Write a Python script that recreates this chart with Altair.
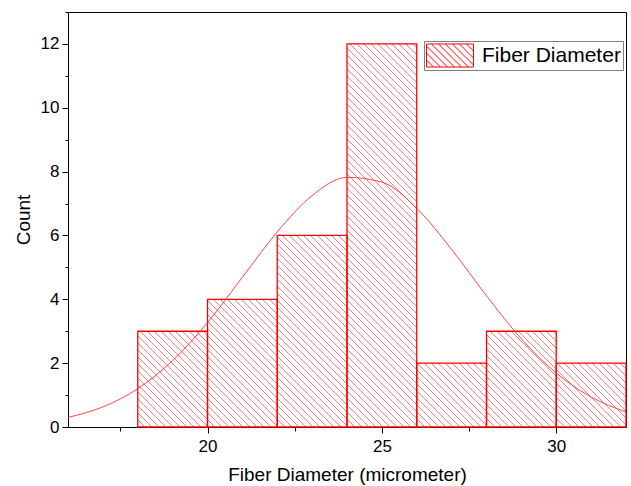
import altair as alt
import pandas as pd

# ---- data ----
bin_left = [18, 20, 22, 24, 26, 28, 30]
bin_right = [20, 22, 24, 26, 28, 30, 32]
counts = [3, 4, 6, 12, 2, 3, 2]
series_name = "Fiber Diameter"

curve_x = [16, 17, 18, 19, 20, 21, 22, 23, 24, 25, 26, 27, 28, 29, 30, 31, 32]
curve_y = [0.30, 0.63, 1.20, 2.08, 3.27, 4.69, 6.11, 7.25, 7.82, 7.67, 6.85,
           5.56, 4.11, 2.76, 1.69, 0.94, 0.47]

x_ticks = [17.5, 20, 22.5, 25, 27.5, 30]
y_ticks = list(range(0, 14))

# ---- layout / style ----
X_MIN, X_MAX = 16, 32
Y_MAX = 13
W, H = 558, 415
PX_X = W / (X_MAX - X_MIN)
PX_Y = H / Y_MAX
HATCH = 7.0
FONT = "Liberation Sans"
RED = "#ff0000"

bars_df = pd.DataFrame({"x0": bin_left, "x1": bin_right, "n": counts,
                        "series": [series_name] * len(counts)})
curve_df = pd.DataFrame({"x": curve_x, "y": curve_y})

xscale = alt.Scale(domain=[X_MIN, X_MAX], nice=False, zero=False)
yscale = alt.Scale(domain=[0, Y_MAX], nice=False)

x_axis = alt.Axis(
    values=x_ticks, grid=False, title="Fiber Diameter (micrometer)",
    labelExpr="datum.value % 5 === 0 ? datum.label : ''",
    tickSize={"condition": {"test": "datum.value % 5 === 0", "value": 6}, "value": 4},
    labelPadding=5, titlePadding=11,
)
y_axis = alt.Axis(
    values=y_ticks, grid=False, title="Count",
    labelExpr="datum.value % 2 === 0 ? datum.label : ''",
    tickSize={"condition": {"test": "datum.value % 2 === 0", "value": 6}, "value": 3},
    labelPadding=3, titlePadding=7,
)

# ---- hatch lines, computed from the bar table ----
hatch = (
    alt.Chart(bars_df)
    .transform_calculate(
        cmin=f"{PX_X}*(datum.x0-{X_MIN})",
        cmax=f"{PX_X}*(datum.x1-{X_MIN})+{PX_Y}*datum.n",
    )
    .transform_calculate(
        ks=f"sequence(ceil(datum.cmin/{HATCH}), floor(datum.cmax/{HATCH})+1)"
    )
    .transform_flatten(["ks"], as_=["k"])
    .transform_calculate(c=f"datum.k*{HATCH}")
    .transform_calculate(
        xa=f"max(datum.x0, {X_MIN}+(datum.c-{PX_Y}*datum.n)/{PX_X})",
        xb=f"min(datum.x1, {X_MIN}+datum.c/{PX_X})",
    )
    .transform_calculate(
        ya=f"(datum.c-{PX_X}*(datum.xa-{X_MIN}))/{PX_Y}",
        yb=f"(datum.c-{PX_X}*(datum.xb-{X_MIN}))/{PX_Y}",
    )
    .mark_rule(color=RED, opacity=0.5, strokeWidth=1)
    .encode(
        x=alt.X("xa:Q", scale=xscale, axis=x_axis),
        x2="xb:Q",
        y=alt.Y("ya:Q", scale=yscale, axis=y_axis),
        y2="yb:Q",
    )
)

# ---- legend symbol: rectangle with diagonal hatch ----
hw, hh = 1.0, 0.49
unit = 47 / 2.0
step = HATCH / unit
parts = [f"M{-hw},{-hh}L{hw},{-hh}L{hw},{hh}L{-hw},{hh}Z"]
t = -(hw + hh) + step
while t < hw + hh:
    xa_ = max(-hw, t - hh)
    xb_ = min(hw, t + hh)
    if xb_ > xa_:
        parts.append(f"M{xa_:.3f},{xa_ - t:.3f}L{xb_:.3f},{xb_ - t:.3f}")
    t += step
symbol_path = "".join(parts)

bars = (
    alt.Chart(bars_df)
    .mark_rect(fill="transparent", stroke=RED, strokeWidth=1.3, strokeOpacity=1)
    .encode(
        x=alt.X("x0:Q", scale=xscale, axis=x_axis),
        x2="x1:Q",
        y=alt.Y("n:Q", scale=yscale, axis=y_axis),
        y2=alt.datum(0),
        stroke=alt.Stroke(
            "series:N",
            scale=alt.Scale(range=[RED]),
            legend=alt.Legend(
                title=None, orient="none", legendX=356, legendY=29,
                symbolType=symbol_path, symbolSize=2209, symbolStrokeWidth=1,
                symbolFillColor="transparent", symbolOpacity=1,
                labelFontSize=21, labelFont=FONT, labelColor="black",
                labelOffset=8, labelLimit=400, padding=2,
                strokeColor="#808080", fillColor="white", clipHeight=25,
            ),
        ),
    )
)

curve = (
    alt.Chart(curve_df)
    .mark_line(color="#ff3030", strokeWidth=0.9, interpolate="monotone")
    .encode(
        x=alt.X("x:Q", scale=xscale, axis=x_axis),
        y=alt.Y("y:Q", scale=yscale, axis=y_axis),
    )
)

chart = (
    alt.layer(hatch, bars, curve)
    .properties(
        width=W, height=H,
        padding={"left": 68, "top": 12, "right": 5, "bottom": 59},
        autosize=alt.AutoSizeParams(type="none"),
        background="white",
    )
    .configure_view(stroke="black", strokeWidth=1)
    .configure_axis(
        domainColor="black", domainWidth=1, tickColor="black", tickWidth=1,
        labelColor="black", titleColor="black",
        labelFont=FONT, titleFont=FONT, labelFontSize=17, titleFontSize=19,
        titleFontWeight="normal",
    )
)

chart.save("out.html", embed_options={"renderer": "svg", "actions": False})
